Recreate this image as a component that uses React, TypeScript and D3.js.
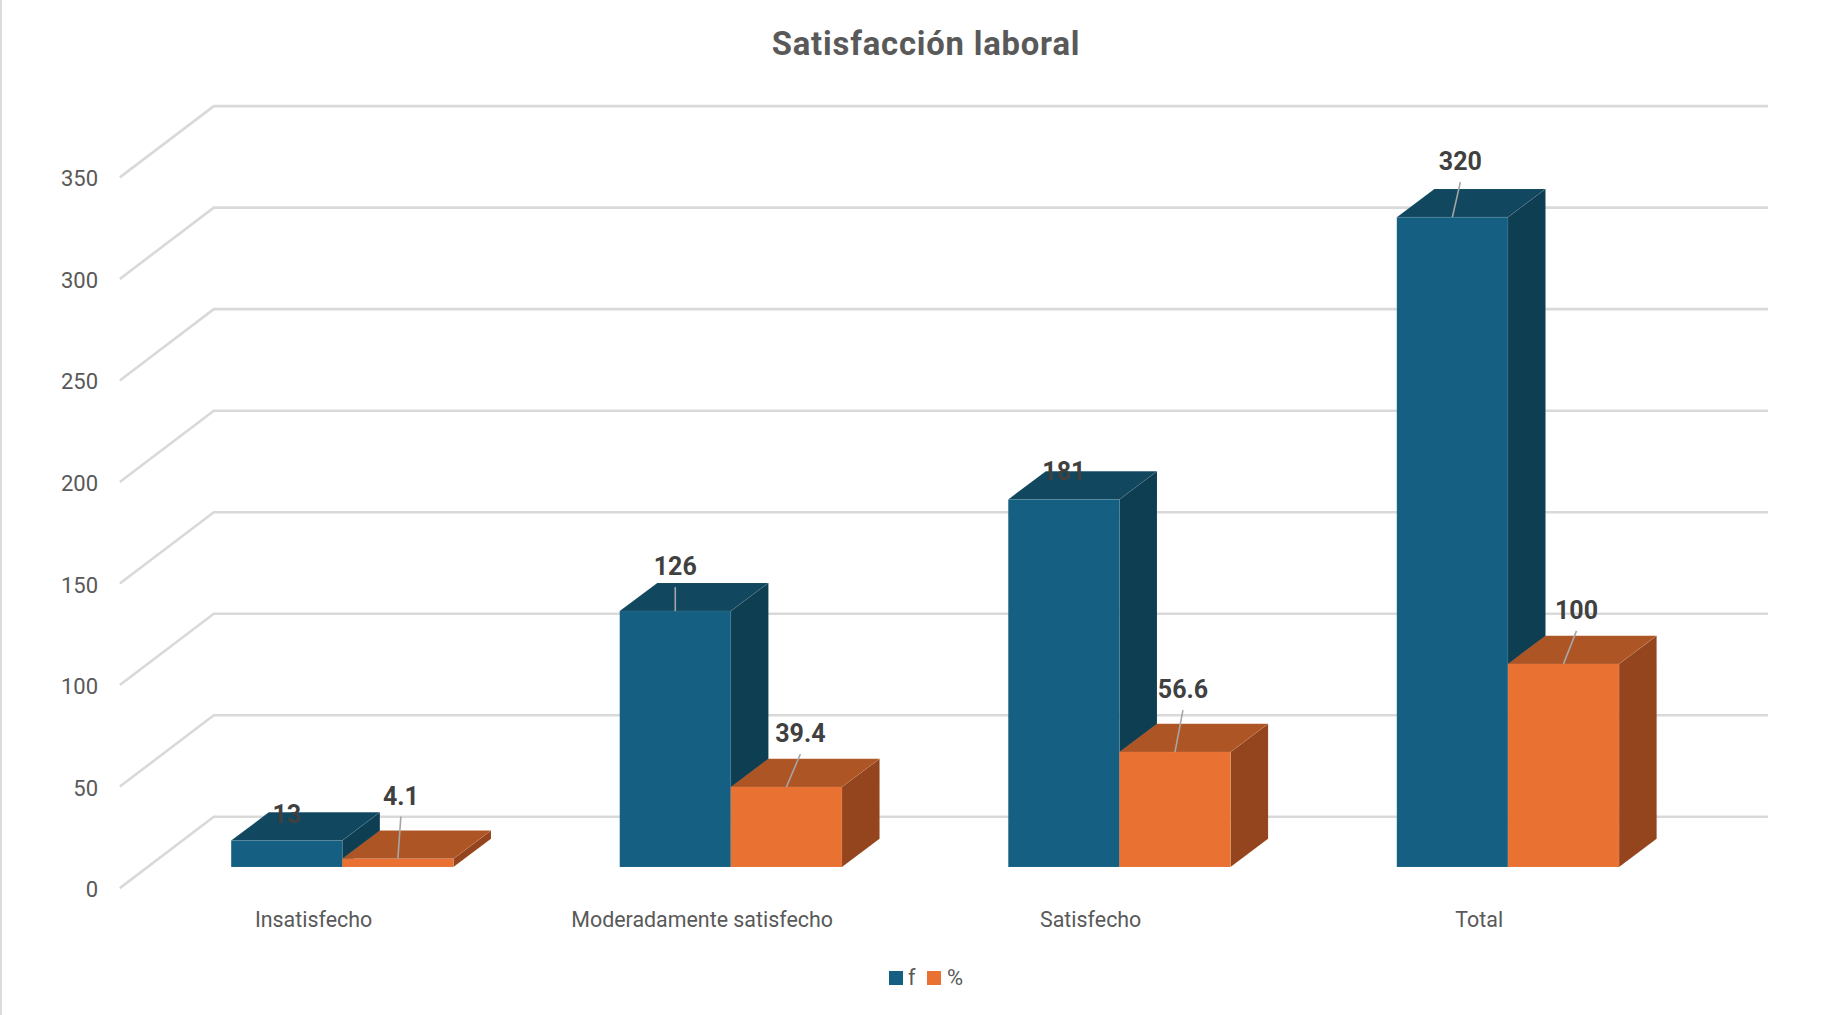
import React from "react";
import * as d3 from "d3";

const categories = ["Insatisfecho", "Moderadamente satisfecho", "Satisfecho", "Total"];
const fValues = [13, 126, 181, 320];
const pctValues = [4.1, 39.4, 56.6, 100];
const fLabels = ["13", "126", "181", "320"];
const pctLabels = ["4.1", "39.4", "56.6", "100"];
const yTicks = [0, 50, 100, 150, 200, 250, 300, 350];
const title = "Satisfacción laboral";

// label offsets from the bar's front top centre (px)
const fOffsets = [[0, -27], [0, -45], [0, -28], [8, -56]];
const pctOffsets = [[3, -63], [14, -54], [8, -63], [13, -54]];
const fLeader = [false, true, false, true];
const pctLeader = [true, true, true, true];

const K = 1842 / 1568;
const frontLeft = 102 * K;
const frontRight = 1425 * K;
const zeroY = 756 * K;
const topY = 151 * K;
const depthX = 80 * K;
const depthY = 60 * K;
const barW = 94.6 * K;
const FONT = "Roboto, 'Liberation Sans', sans-serif";

const x = d3.scaleBand<string>().domain(categories).range([frontLeft, frontRight]);
const h = d3.scaleLinear().domain([0, 350]).range([0, zeroY - topY]);

const pt = (px: number, py: number, depth: number): [number, number] => [px + depth * depthX, py - depth * depthY];
const poly = (p: [number, number][]) => d3.line()(p)! + "Z";

type Bar = { left: number; top: number; base: number; front: string; topc: string; side: string };

function Box({ left, top, base, front, topc, side }: Bar) {
  const z0 = 0.3, z1 = 0.7;
  const a = pt(left, top, z0), b = pt(left + barW, top, z0), c = pt(left + barW, base, z0), d = pt(left, base, z0);
  const e = pt(left, top, z1), f = pt(left + barW, top, z1), g = pt(left + barW, base, z1);
  const edge = { stroke: "#ffffff", strokeOpacity: 0.1, strokeWidth: 0.6 };
  return (
    <g>
      <path d={poly([b, f, g, c])} fill={side} {...edge} />
      <path d={poly([a, e, f, b])} fill={topc} {...edge} />
      <path d={poly([a, b, c, d])} fill={front} {...edge} />
    </g>
  );
}

export default function App() {
  const series = [
    { name: "f", values: fValues, labels: fLabels, off: fOffsets, lead: fLeader, front: "#156082", topc: "#11475F", side: "#0D3E52", shift: -barW },
    { name: "%", values: pctValues, labels: pctLabels, off: pctOffsets, lead: pctLeader, front: "#E97132", topc: "#AE5525", side: "#94451D", shift: 0 },
  ];
  return (
    <svg width={1842} height={1015} style={{ position: "fixed", left: 0, top: 0, background: "#fff" }}>
      <rect x={0} y={0} width={2} height={1015} fill="#dcdcdc" />
      <text x={926} y={55} textAnchor="middle" fontFamily={FONT} fontWeight={700} fontSize={32.8} letterSpacing={0.8} fill="#595959">{title}</text>

      {yTicks.map((t) => {
        const y = zeroY - h(t);
        const b = pt(frontLeft, y, 1);
        return (
          <g key={t}>
            <path d={d3.line()([[frontLeft, y], [b[0], b[1] - 0.8], [frontRight + depthX, b[1] - 0.8]])!} fill="none" stroke="#d9d9d9" strokeWidth={2.6} />
            <text x={98} y={y + 9} textAnchor="end" fontFamily={FONT} fontSize={22} fill="#595959">{t}</text>
          </g>
        );
      })}

      {categories.map((c) => {
        const cx = x(c)! + x.bandwidth() / 2;
        return (
          <text key={c} x={cx - 0.5} y={927} textAnchor="middle" fontFamily={FONT} fontSize={21.4} fill="#595959">{c}</text>
        );
      })}

      {categories.map((c, i) => {
        const center = x(c)! + x.bandwidth() / 2 + 0.3 * depthX;
        return series.map((s) => {
          const left = center - 0.3 * depthX + s.shift;
          const top = zeroY - h(s.values[i]);
          return <Box key={c + s.name} left={left} top={top} base={zeroY} front={s.front} topc={s.topc} side={s.side} />;
        });
      })}

      {categories.map((c, i) => {
        const base = x(c)! + x.bandwidth() / 2;
        return series.map((s) => {
          const ax = base + s.shift + barW / 2 + 0.3 * depthX;
          const ay = zeroY - h(s.values[i]) - 0.3 * depthY;
          const lx = ax + s.off[i][0];
          const ly = ay + s.off[i][1];
          return (
            <g key={c + s.name}>
              {s.lead[i] && <line x1={lx} y1={ly + 21} x2={ax} y2={ay} stroke="#a6a6a6" strokeWidth={1.6} />}
              <text x={lx} y={ly + 9} textAnchor="middle" fontFamily={FONT} fontWeight={700} fontSize={25} fill="#404040">{s.labels[i]}</text>
            </g>
          );
        });
      })}

      <rect x={889} y={971} width={14} height={14} fill="#156082" />
      <text x={908} y={985} fontFamily={FONT} fontSize={21.5} fill="#595959">f</text>
      <rect x={927} y={971} width={14} height={14} fill="#E97132" />
      <text x={947} y={985} fontFamily={FONT} fontSize={22} fill="#595959">%</text>
    </svg>
  );
}
